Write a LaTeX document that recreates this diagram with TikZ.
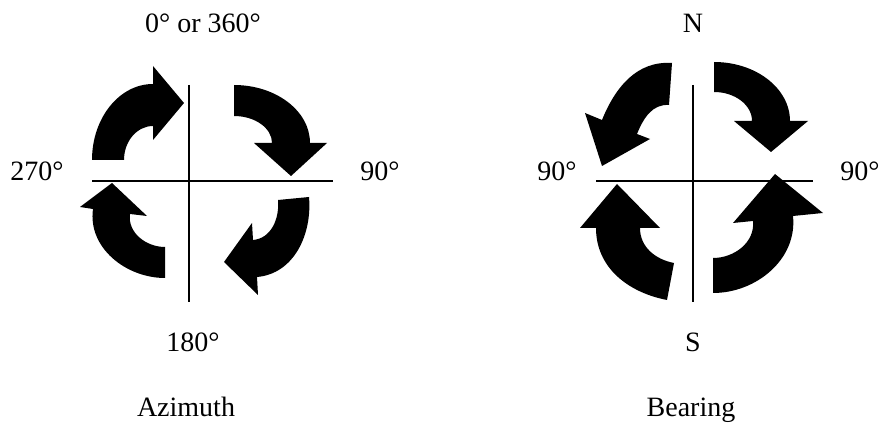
\documentclass[tikz,border=0pt]{standalone}
\usepackage{fontspec}
\setmainfont{Liberation Serif}
\tikzset{sc/.style={x=0.75pt,y=0.75pt,line width=1.5pt},
  lbl/.style={anchor=base,inner sep=0pt,font=\fontsize{21}{25}\selectfont},
  blk/.style={fill=black}}

\begin{document}
\begin{tikzpicture}[sc]
  \useasboundingbox (0,0) rectangle (882,425);
  % azimuth cross and arrows
  \draw (92,244)--(333,244);\draw (189,340)--(189,123);
  \fill[blk] (92,265) arc[start angle=180,end angle=90,x radius=61,y radius=76] -- (153,359) -- (184,322) -- (153,285) -- (153,299) arc[start angle=90,end angle=180,x radius=29,y radius=34] -- cycle;
  \fill[blk] (234,340) arc[start angle=90,end angle=0,x radius=76,y radius=58] -- (327,282) -- (291,249) -- (254,282) -- (272,282) arc[start angle=0,end angle=90,x radius=38,y radius=27] -- cycle;
  \fill[blk] (309,228) to[out=-85,in=5] (257,148) -- (258,130) -- (224,163) -- (252,202) -- (253,185) to[out=5,in=-85] (278,225) -- cycle;
  \fill[blk] (165,147) to[out=180,in=-98] (93,216) -- (80,218) -- (112,242) -- (147,209) -- (130,211) to[out=-98,in=180] (165,178) -- cycle;
  \node[lbl] (az0) at (203,392) {0° or 360°};
  \node[lbl] (az270) at (37,244) {270°};
  \node[lbl] (az90) at (380,244) {90°};
  \node[lbl] (az180) at (193,73) {180°};
  \node[lbl] (azcap) at (186,8) {Azimuth};
  % bearing cross and arrows
  \draw (596,244)--(813,244);\draw (693,340)--(693,123);
  \fill[blk] (714,363) arc[start angle=90,end angle=0,x radius=76,y radius=59] -- (808,304) -- (771,273) -- (734,304) -- (752,304) arc[start angle=0,end angle=90,x radius=38,y radius=29] -- cycle;
  \fill[blk] (672,362) to[out=176,in=68] (602,305) -- (585,312) -- (602,259) -- (650,286) -- (637,291) to[out=68,in=176] (669,320) -- cycle;
  \fill[blk] (667,125) to[out=169,in=-90] (596,197) -- (580,197) -- (617,241) -- (660,197) -- (640,197) to[out=-90,in=169] (674,162) -- cycle;
  \fill[blk] (713,132) to[out=0,in=-84] (793,209) -- (823,212) -- (775,251) -- (733,202) -- (753,204) to[out=-84,in=0] (713,167) -- cycle;
  \node[lbl] (bN) at (693,392) {N};
  \node[lbl] (bW) at (557,244) {90°};
  \node[lbl] (bE) at (860,244) {90°};
  \node[lbl] (bS) at (693,73) {S};
  \node[lbl] (bcap) at (691,8) {Bearing};
\end{tikzpicture}
\end{document}
